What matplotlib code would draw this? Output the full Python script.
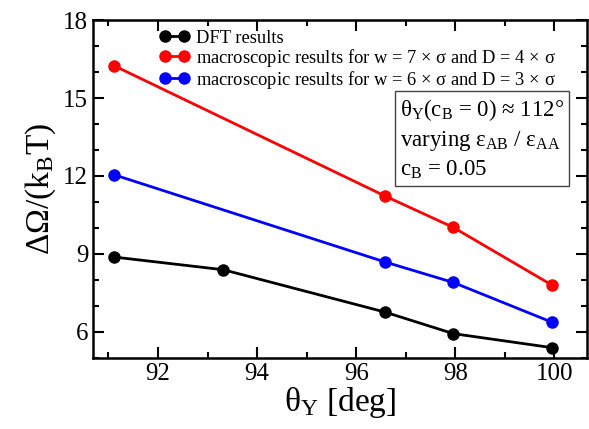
import matplotlib
matplotlib.use('Agg')
import matplotlib.pyplot as plt
from matplotlib.ticker import MultipleLocator

plt.rcParams['font.family'] = ['Liberation Serif', 'DejaVu Serif']
plt.rcParams['mathtext.fontset'] = 'custom'
plt.rcParams['mathtext.rm'] = 'Liberation Serif'
plt.rcParams['mathtext.it'] = 'Liberation Serif:italic'

# contact angle theta_Y [deg] and free energy barrier dOmega/(kB T)
theta_dft = [91.11, 93.32, 96.58, 97.96, 99.95]
omega_dft = [8.88, 8.39, 6.76, 5.93, 5.39]

theta_macro = [91.11, 96.58, 97.96, 99.95]
omega_w7 = [16.25, 11.23, 10.02, 7.80]
omega_w6 = [12.05, 8.69, 7.90, 6.37]

fig = plt.figure(figsize=(5.89, 4.29), dpi=100)
ax = fig.add_axes([0.158, 0.166, 0.838, 0.787])

kw = dict(lw=2, marker='o', ms=9, markeredgewidth=0)
ax.plot(theta_dft, omega_dft, color='black', label='DFT results', **kw)
ax.plot(theta_macro, omega_w7, color='red',
        label=r'macroscopic results for w = 7$\,\times\,$σ and D = 4$\,\times\,$σ', **kw)
ax.plot(theta_macro, omega_w6, color='blue',
        label=r'macroscopic results for w = 6$\,\times\,$σ and D = 3$\,\times\,$σ', **kw)

ax.set_xlim(90.69, 100.65)
ax.set_ylim(5, 18)
ax.xaxis.set_major_locator(MultipleLocator(2))
ax.xaxis.set_minor_locator(MultipleLocator(1))
ax.yaxis.set_major_locator(MultipleLocator(3))
ax.yaxis.set_minor_locator(MultipleLocator(1))
ax.tick_params(which='both', direction='in', top=True, right=True, width=1.5,
               labelsize=18)
ax.tick_params(which='major', length=8)
ax.tick_params(which='minor', length=4)
for s in ax.spines.values():
    s.set_linewidth(1.8)

ax.set_xlabel(r'$\mathrm{\theta_Y}$ [deg]', fontsize=24, labelpad=0)
ax.set_ylabel(r'ΔΩ/(k$_\mathrm{B}$T)', fontsize=24, labelpad=4)

leg = ax.legend(loc='upper left', bbox_to_anchor=(0.135, 0.972), numpoints=2,
                handlelength=1.6, handletextpad=0.35, fontsize=13.3, frameon=False,
                borderaxespad=0, labelspacing=0.0, borderpad=0)

ax.text(0.622, 0.772,
        '$\\mathrm{\\theta_Y(c_B}$ = 0) ≈ 112°\nvarying $\\mathrm{ε_{AB}}$ / $\\mathrm{ε_{AA}}$\n$\\mathrm{c_B}$ = 0.05',
        transform=ax.transAxes, fontsize=16.5, va='top', ha='left', linespacing=1.35,
        bbox=dict(boxstyle='square,pad=0.2', fc='white', ec='#444444', lw=1))

fig.savefig('out.png', dpi=100)
